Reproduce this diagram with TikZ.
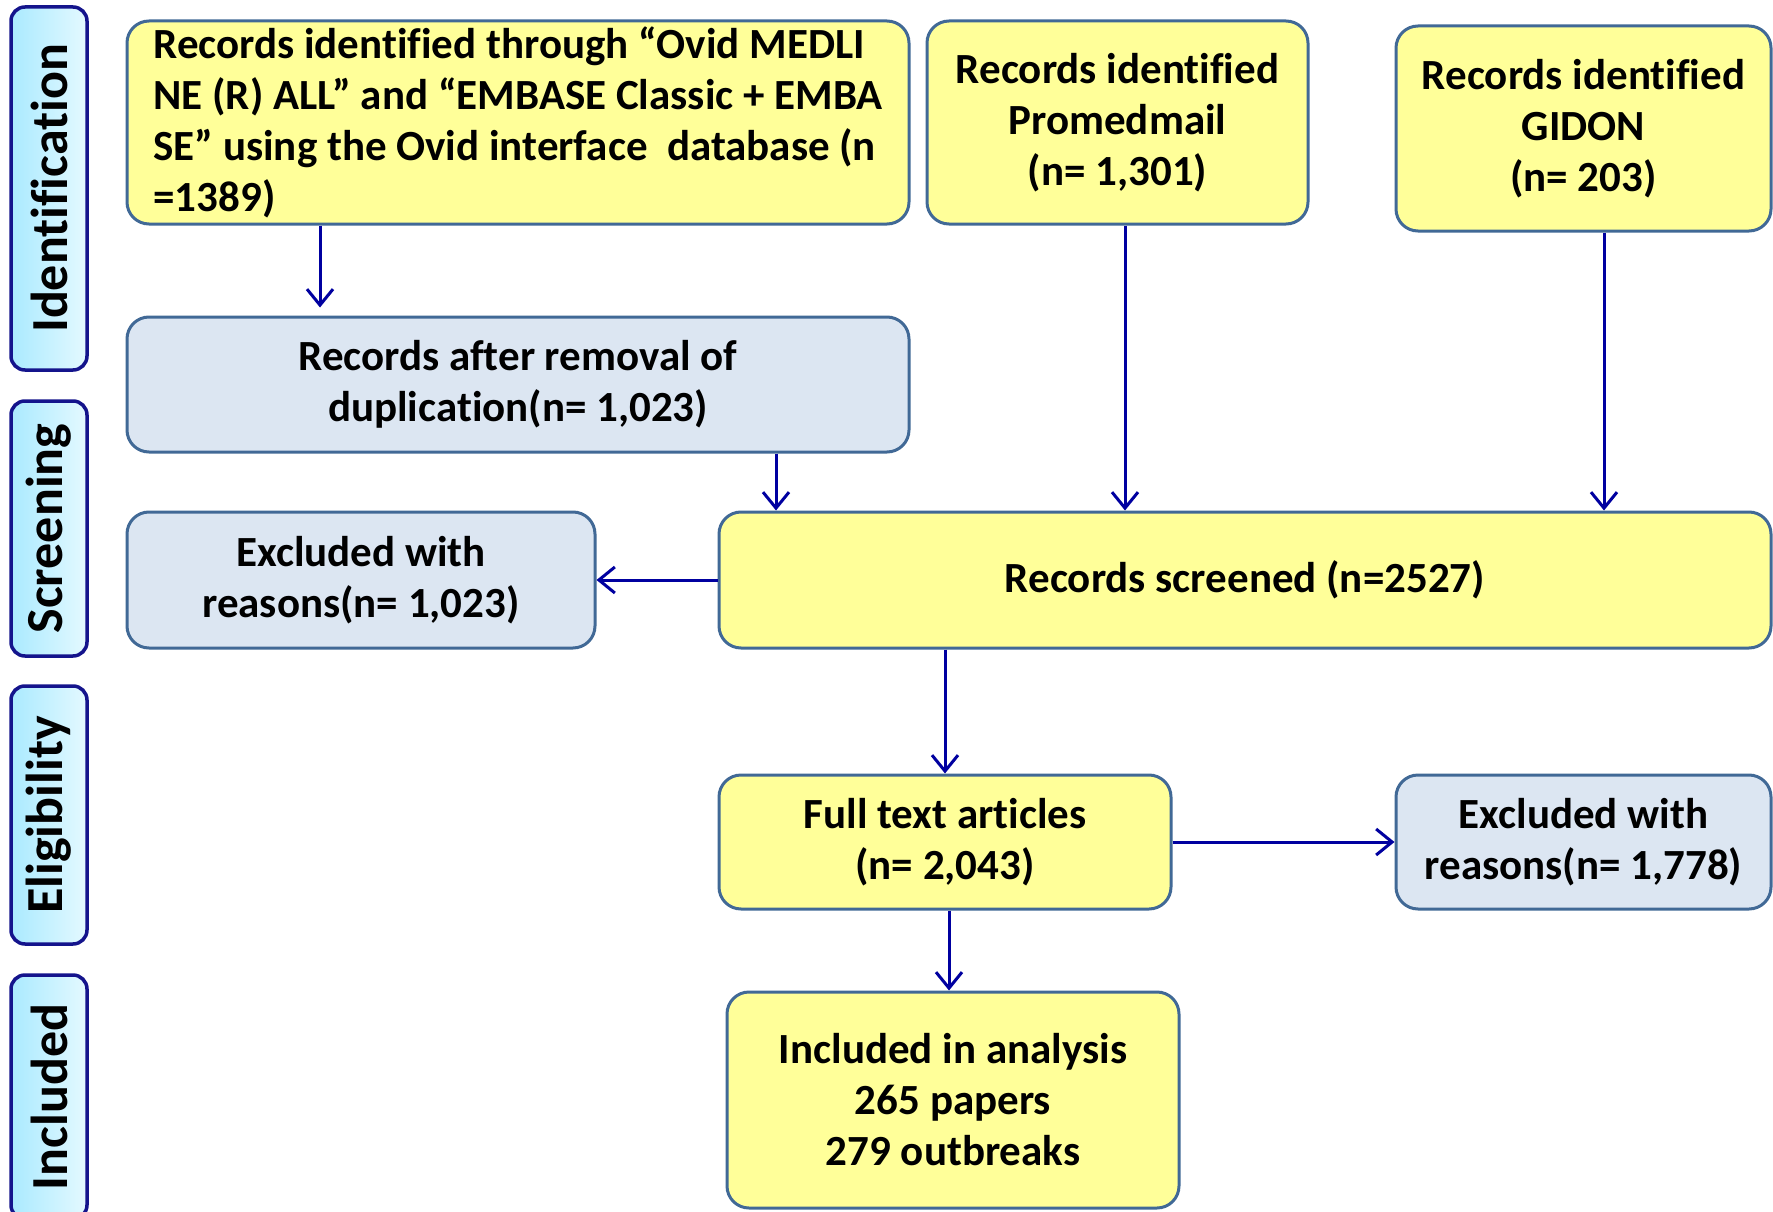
\documentclass[tikz,border=0pt]{standalone}
\usepackage{fontspec}
\setmainfont{Carlito}[Ligatures=NoCommon]
\usetikzlibrary{arrows.meta}
\definecolor{yel}{RGB}{255,255,153}
\definecolor{lb}{RGB}{220,230,242}
\definecolor{bord}{RGB}{65,105,150}
\definecolor{arrc}{RGB}{0,0,160}
\definecolor{sideb}{RGB}{20,20,140}
\definecolor{sidetop}{RGB}{228,249,255}
\definecolor{sidebot}{RGB}{170,234,255}
\tikzset{
  box/.style={draw=bord, line width=3pt, rounded corners=22pt, align=center, inner sep=0pt,
    font=\fontsize{43}{51}\selectfont\bfseries},
  ybox/.style={box, fill=yel},
  bbox/.style={box, fill=lb},
  side/.style={draw=sideb, line width=3.5pt, rounded corners=14pt, rotate=90,
    left color=sidebot, right color=sidetop, minimum height=76pt, inner sep=0pt,
    font=\fontsize{52}{60}\selectfont\bfseries},
  arr/.style={draw=arrc, line width=3pt, -{Straight Barb[length=16pt,width=26pt,line width=3pt]}}
}
\begin{document}
\begin{tikzpicture}[x=1pt,y=-1pt]
\useasboundingbox (0,0) rectangle (1773,1212);
\clip (0,0) rectangle (1773,1212);
\fill[white] (0,0) rectangle (1773,1212);
% side labels
\node[side, minimum width=363pt] (s1) at (49,188.5) {Identification};
\node[side, minimum width=255pt] (s2) at (49,528.5) {Screening};
\node[side, minimum width=258pt] (s3) at (49,815) {Eligibility};
\node[side, minimum width=244pt] (s4) at (49,1097) {Included};
% boxes
\node[ybox, minimum width=782pt, minimum height=203pt, align=left] (b1) at (518,122.5)
  {Records identified through “Ovid MEDLI\\NE (R) ALL” and “EMBASE Classic + EMBA\\SE” using the Ovid interface\ \ database (n\\=1389)};
\node[ybox, minimum width=381pt, minimum height=203pt] (b2) at (1117.5,122.5)
  {Records identified\\Promedmail\\(n= 1,301)};
\node[ybox, minimum width=375pt, minimum height=205pt] (b3) at (1583.5,128.5)
  {Records identified\\GIDON\\(n= 203)};
\node[bbox, minimum width=782pt, minimum height=135pt] (b4) at (518,384.5)
  {Records after removal of\\duplication(n= 1,023)};
\node[bbox, minimum width=468pt, minimum height=136pt] (b5) at (361,580)
  {Excluded with\\reasons(n= 1,023)};
\node[ybox, minimum width=1052pt, minimum height=136pt] (b6) at (1245,580)
  {Records screened (n=2527)};
\node[ybox, minimum width=452pt, minimum height=134pt] (b7) at (945,842)
  {Full text articles\\(n= 2,043)};
\node[bbox, minimum width=375pt, minimum height=134pt] (b8) at (1583.5,842)
  {Excluded with\\reasons(n= 1,778)};
\node[ybox, minimum width=452pt, minimum height=216pt] (b9) at (953,1100)
  {Included in analysis\\265 papers\\279 outbreaks};
% arrows
\draw[arr, shorten >=8pt] (b1.south -| 320,0) -- (b4.north -| 320,0);
\draw[arr] (b4.south -| 776,0) -- (b6.north -| 776,0);
\draw[arr] (b2.south -| 1125,0) -- (b6.north -| 1125,0);
\draw[arr] (b3.south -| 1604,0) -- (b6.north -| 1604,0);
\draw[arr] (b6.west) -- (b5.east);
\draw[arr] (b6.south -| b7.north) -- (b7.north);
\draw[arr] (b7.east) -- (b8.west);
\draw[arr] (b7.south -| 949,0) -- (b9.north -| 949,0);
\end{tikzpicture}
\end{document}
